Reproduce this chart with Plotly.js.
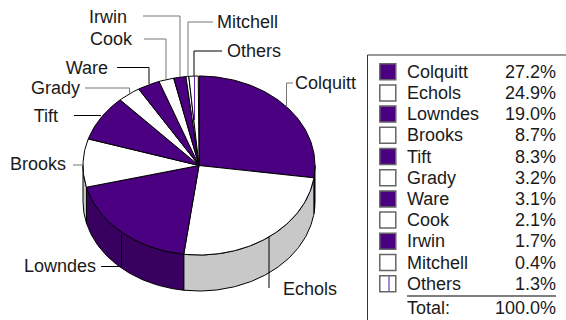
<!DOCTYPE html>
<html><head><meta charset="utf-8">
<script src="https://cdn.plot.ly/plotly-3.0.1.min.js"></script>
<style>html,body{margin:0;padding:0;background:#fff}#c{width:566px;height:320px}</style>
</head><body><div id="c"></div>
<script>
const categories=["Colquitt","Echols","Lowndes","Brooks","Tift","Grady","Ware","Cook","Irwin","Mitchell","Others"];
const shares=[27.2,24.9,19.0,8.7,8.3,3.2,3.1,2.1,1.7,0.4,1.3];
const totalLabel="Total:";
const totalValue="100.0%";
const INDIGO="#4b0082",DARK="#38005f",GREY="#c8c8c8",WHITE="#ffffff";
const cx=199,cy=165.5,rx=116,ry=89.5,depth=36;
const pt=(deg,d=0)=>{const a=deg*Math.PI/180;return [cx+rx*Math.sin(a),cy-ry*Math.cos(a)+d];};
const traces=[];
const poly=(pts,fill,lw=1,lc="#000")=>traces.push({type:"scatter",mode:"lines",x:pts.map(p=>p[0]),y:pts.map(p=>p[1]),fill:"toself",fillcolor:fill,line:{color:lc,width:lw},hoverinfo:"skip",showlegend:false});
const line=(xs,ys,c="#000",w=1)=>traces.push({type:"scatter",mode:"lines",x:xs,y:ys,line:{color:c,width:w},hoverinfo:"skip",showlegend:false});
const arc=(a,b,d=0)=>{const out=[];const n=Math.max(2,Math.ceil(Math.abs(b-a)));for(let i=0;i<=n;i++)out.push(pt(a+(b-a)*i/n,d));return out;};
const fillOf=i=>i%2||i===10?WHITE:INDIGO;
let acc=0;
const spans=shares.map(s=>{const a=acc*3.6;acc+=s;return [a,acc*3.6];});
spans.forEach(([a,b],i)=>{
  const s=Math.max(a,90),e=Math.min(b,270);
  if(e>s){poly([...arc(s,e),...arc(e,s,depth)].concat([pt(s)]),i%2?GREY:DARK);}
});
spans.forEach(([a,b],i)=>{
  poly([[cx,cy],...arc(a,b),[cx,cy]],fillOf(i));
});
// Others stripe
line([194.5,194.5],[76.5,120],"#6a20b0",1);
// leaders
const L="#000",G="#777";
line([286.5,286.5,293],[107,83,83],G);
line([269,269],[237,288],L);
line([101,121.5,121.5],[266.5,266.5,234],L);
line([73,83],[165,165],G);
line([74,101],[115.5,115.5],L);
line([85,129.5,129.5],[88,88,94],G);
line([117,149,149],[67.5,67.5,84],L);
line([144,166,166],[39,39,79],G);
line([143,180,180],[16,16,77],G);
line([213,188,188],[22,22,76],G);
line([222,194,194],[51,51,76],L);
// legend frame
line([566,367.5,367.5],[55,55,320],"#333",1);
line([407,556],[296,296],"#555",1.5);
// swatches
const yLeg=categories.map((c,i)=>71.7+21.2*i);
traces.push({type:"scatter",mode:"markers",x:categories.map(()=>387.8),y:yLeg,
  marker:{symbol:"square",size:16,color:categories.map((c,i)=>fillOf(i)),line:{color:"#666",width:1.5}},hoverinfo:"skip",showlegend:false});
line([389,389],[yLeg[10]-8,yLeg[10]+8],"#8a5cc4",1.5);
const F={family:"Liberation Sans, Arial, sans-serif",size:18,color:"#1a1a1a"};
const dy=1.5;
const txt=(xs,ys,t,pos)=>traces.push({type:"scatter",mode:"text",x:xs,y:ys.map(v=>v+dy),text:t,textposition:pos,textfont:F,cliponaxis:false,hoverinfo:"skip",showlegend:false});
txt(categories.map(()=>407),yLeg,categories,"middle right");
txt(categories.map(()=>556),yLeg,shares.map(v=>v.toFixed(1)+"%"),"middle left");
txt([407],[308],[totalLabel],"middle right");
txt([556],[308],[totalValue],"middle left");
const lab=[["Colquitt",295,83,"middle right"],["Echols",283,289,"middle right"],["Lowndes",96,266,"middle left"],["Brooks",66,164,"middle left"],["Tift",58,116,"middle left"],["Grady",80,88,"middle left"],["Ware",108,68,"middle left"],["Cook",132,39,"middle left"],["Irwin",127,17,"middle left"],["Mitchell",217,22,"middle right"],["Others",227,51,"middle right"]];
txt(lab.map(l=>l[1]),lab.map(l=>l[2]),lab.map(l=>l[0]),lab.map(l=>l[3]));
Plotly.newPlot("c",traces,{width:566,height:320,margin:{l:0,r:0,t:0,b:0},paper_bgcolor:"#fff",plot_bgcolor:"#fff",showlegend:false,
 xaxis:{range:[0,566],visible:false,fixedrange:true},yaxis:{range:[320,0],visible:false,fixedrange:true}},{displayModeBar:false,staticPlot:true});
</script></body></html>
